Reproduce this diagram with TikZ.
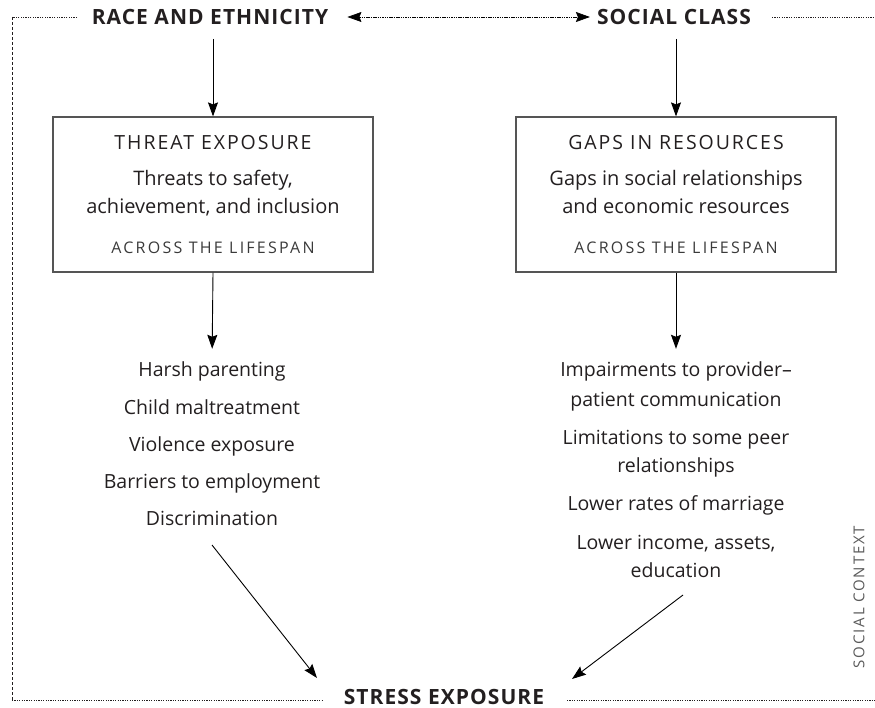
\documentclass[tikz,border=0pt]{standalone}
\usepackage{fontspec}
\setmainfont{Open Sans}
\usetikzlibrary{arrows.meta}
\definecolor{ink}{HTML}{231F20}
\definecolor{boxline}{HTML}{555555}
\definecolor{soft}{HTML}{3A3A3A}
\definecolor{ctxgray}{HTML}{5A5A5A}
\begin{document}
\begin{tikzpicture}[x=1pt,y=-1pt,
  head/.style={font=\fontsize{21}{24}\selectfont\bfseries\addfontfeatures{LetterSpace=5}, text=ink, inner sep=0pt},
  boxtitle/.style={font=\fontsize{19.5}{22}\selectfont\addfontfeatures{LetterSpace=10}, text=ink, inner sep=0pt},
  boxtext/.style={font=\fontsize{20}{23}\selectfont, text=ink, inner sep=0pt, text height=13pt, text depth=5pt},
  boxfoot/.style={font=\fontsize{16}{19}\selectfont\addfontfeatures{LetterSpace=14}, text=soft, inner sep=0pt},
  item/.style={font=\fontsize{19.5}{22}\selectfont, text=ink, inner sep=0pt, text height=13pt, text depth=5pt},
  bigbox/.style={draw=boxline, line width=1.2pt, minimum width=320pt, minimum height=155pt, inner sep=0pt},
  arr/.style={line width=0.9pt, -{Stealth[length=14pt,width=10pt,inset=2pt]}},
  dbl/.style={line width=0.7pt, dash pattern=on 1.5pt off 0.8pt, {Stealth[length=14pt,width=10pt,inset=2pt]}-{Stealth[length=14pt,width=10pt,inset=2pt]}},
  frameh/.style={line width=0.6pt, draw=ink, dash pattern=on 1.2pt off 1.2pt},
  framev/.style={line width=0.6pt, draw=ink, dash pattern=on 3pt off 2pt},
  ctx/.style={font=\fontsize{15}{18}\selectfont\addfontfeatures{LetterSpace=12}, text=ctxgray, inner sep=0pt, rotate=90}
]
\useasboundingbox (0,0) rectangle (875,708);

% frame corners
\coordinate (ftl) at (12,17);
\coordinate (ftle) at (77,17);
\coordinate (fbl) at (12,700);
\coordinate (fble) at (323,700);
\coordinate (fbrs) at (567,700);
\coordinate (fbr) at (875,700);
\coordinate (ftrs) at (772,17);
\coordinate (ftr) at (875,17);
\draw[frameh] (ftle) -- (ftl);
\draw[framev] (ftl) -- (fbl);
\draw[frameh] (fbl) -- (fble);
\draw[frameh] (fbrs) -- (fbr);
\draw[frameh] (ftrs) -- (ftr);

% headings
\node[head] (race) at (210,17) {RACE AND ETHNICITY};
\node[head] (social) at (674,17) {SOCIAL CLASS};
\node[head] (stress) at (444,697) {STRESS EXPOSURE};
\draw[dbl, shorten <=19pt, shorten >=7pt] (race.east) -- (social.west);

% boxes
\node[bigbox] (threat) at (213,194.5) {};
\node[bigbox] (gaps) at (676,194.5) {};
\node[boxtitle] (tt) at (213,143) {THREAT EXPOSURE};
\node[boxtext] (t1) at (213,182) {Threats to safety,};
\node[boxtext] (t2) at (213,210) {achievement, and inclusion};
\node[boxfoot] (t3) at (213,248) {ACROSS THE LIFESPAN};
\node[boxtitle] (gt) at (676,143) {GAPS IN RESOURCES};
\node[boxtext] (g1) at (676,182) {Gaps in social relationships};
\node[boxtext] (g2) at (676,210) {and economic resources};
\node[boxfoot] (g3) at (676,248) {ACROSS THE LIFESPAN};

\draw[arr, shorten <=14pt] (threat.north |- race.south) -- (threat.north);
\draw[arr, shorten <=14pt] (gaps.north |- social.south) -- (gaps.north);

% left list
\node[item] (l1) at (212,373) {Harsh parenting};
\node[item] (l2) at (212,410) {Child maltreatment};
\node[item] (l3) at (212,447) {Violence exposure};
\node[item] (l4) at (212,484) {Barriers to employment};
\node[item] (l5) at (212,521) {Discrimination};

% right list
\node[item] (r1) at (676,373) {Impairments to provider–};
\node[item] (r2) at (676,402) {patient communication};
\node[item] (r3) at (676,440) {Limitations to some peer};
\node[item] (r4) at (676,468) {relationships};
\node[item] (r5) at (676,506) {Lower rates of marriage};
\node[item] (r6) at (676,545) {Lower income, assets,};
\node[item] (r7) at (676,573) {education};

\draw[arr, shorten >=15pt] (threat.south) -- (l1.north);
\draw[arr, shorten >=15pt] (gaps.south) -- (r1.north);

% diagonal arrows to stress exposure
\coordinate (a1s) at (212,545);
\coordinate (a1e) at (317,678);
\coordinate (a2s) at (683,595);
\coordinate (a2e) at (572,679);
\draw[arr] (a1s) -- (a1e);
\draw[arr] (a2s) -- (a2e);

% social context
\node[ctx] (sc) at (859,597) {SOCIAL CONTEXT};
\end{tikzpicture}
\end{document}
